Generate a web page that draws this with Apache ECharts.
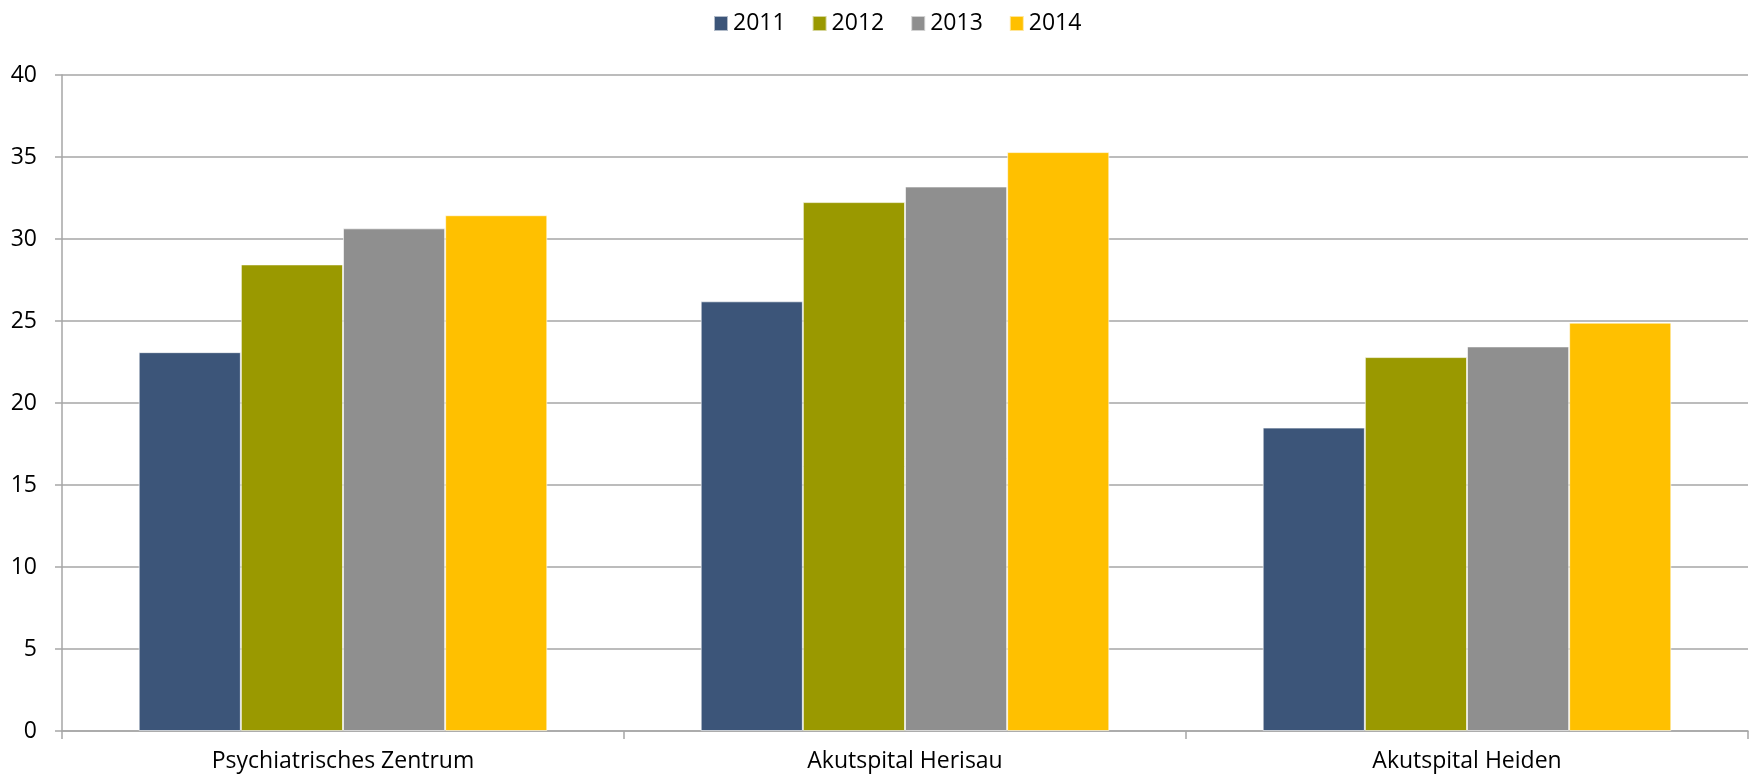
<!DOCTYPE html>
<html><head><meta charset="utf-8">
<script src="https://cdn.jsdelivr.net/npm/echarts@6/dist/echarts.min.js"></script>
<style>html,body{margin:0;padding:0;background:#fff}#c{width:1754px;height:778px}</style>
</head><body><div id="c"></div>
<script>
const categories = ['Psychiatrisches Zentrum', 'Akutspital Herisau', 'Akutspital Heiden'];
const seriesNames = ['2011', '2012', '2013', '2014'];
const v2011 = [23.1, 26.2, 18.5];
const v2012 = [28.45, 32.25, 22.8];
const v2013 = [30.65, 33.2, 23.45];
const v2014 = [31.45, 35.3, 24.9];
const yTicks = [0, 5, 10, 15, 20, 25, 30, 35, 40];
const colors = ['#3C5579', '#9A9900', '#8F8F8F', '#FFC000'];
const values = [v2011, v2012, v2013, v2014];
const font = '"Open Sans", Lato, sans-serif';

const chart = echarts.init(document.getElementById('c'), null, {renderer: 'canvas'});
chart.setOption({
  animation: false,
  color: colors,
  legend: {
    top: 7, left: 708,
    itemWidth: 14, itemHeight: 15, itemGap: 26,
    icon: 'rect',
    textStyle: {fontFamily: font, fontSize: 23, color: '#000'},
    data: seriesNames
  },
  grid: {left: 62, right: 6, top: 75, bottom: 47, containLabel: false},
  xAxis: {
    type: 'category', data: categories,
    axisLine: {lineStyle: {color: '#a6a6a6', width: 1.5}},
    axisTick: {show: true, length: 8, lineStyle: {color: '#a6a6a6', width: 1.5}},
    axisLabel: {fontFamily: font, fontSize: 23, color: '#000', margin: 19}
  },
  yAxis: {
    type: 'value', min: yTicks[0], max: yTicks[yTicks.length - 1], interval: 5,
    axisLine: {show: true, lineStyle: {color: '#a6a6a6', width: 1.5}},
    axisTick: {show: true, length: 7, lineStyle: {color: '#a6a6a6', width: 1.5}},
    splitLine: {lineStyle: {color: '#a6a6a6', width: 1.5}},
    axisLabel: {fontFamily: font, fontSize: 23, color: '#000', margin: 25}
  },
  series: seriesNames.map((n, i) => ({
    name: n, type: 'bar', data: values[i],
    barGap: '0%', barCategoryGap: '27.3%',
    itemStyle: {color: colors[i], borderColor: 'rgba(255,255,255,0.6)', borderWidth: 1}
  }))
});
</script></body></html>
